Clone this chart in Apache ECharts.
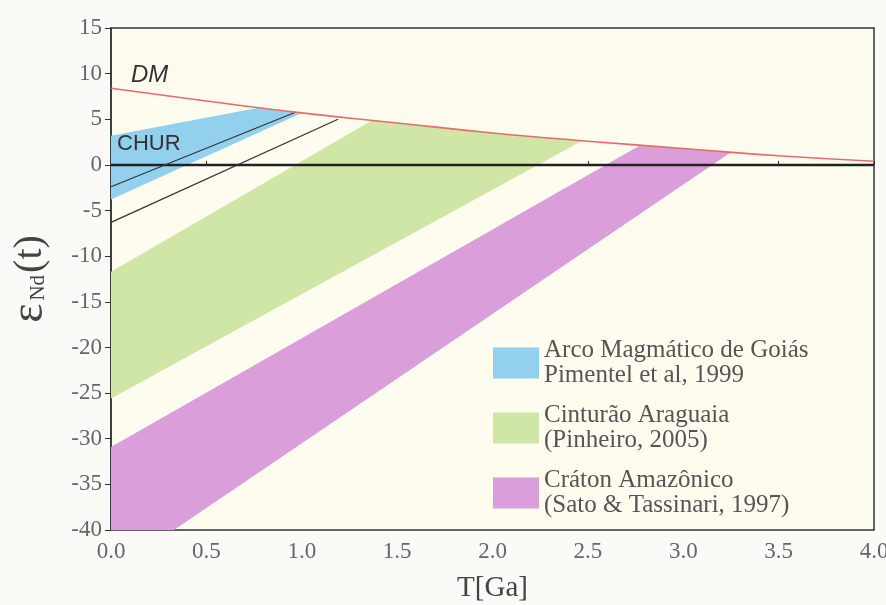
<!DOCTYPE html>
<html><head><meta charset="utf-8">
<script src="https://cdn.jsdelivr.net/npm/echarts@6/dist/echarts.min.js"></script>
<style>html,body{margin:0;padding:0;background:#fafaf7;}#c{width:886px;height:605px;}</style>
</head><body><div id="c"></div>
<script>
// Depleted mantle evolution curve [T (Ga), eNd]
const dmCurve = [[0,8.4],[0.5,7.0],[1.0,5.7],[1.5,4.6],[2.0,3.5],[2.5,2.6],[3.0,1.8],[3.5,1.0],[4.0,0.4]];
// CHUR reference line
const churLine = [[0,0],[4,0]];
// Thin evolution lines
const evoLine1 = [[0,-2.4],[0.97,5.8]];
const evoLine2 = [[0,-6.3],[1.19,5.0]];
// Field polygons (vertices T, eNd)
const arcoField = [[0,3.2],[0.78,6.3],[1.0,5.7],[0,-3.8]];
const araguaiaField = [[0,-11.7],[1.37,4.9],[1.5,4.6],[2.0,3.5],[2.47,2.65],[0,-25.6]];
const cratonField = [[0,-30.9],[2.77,2.1],[3.0,1.8],[3.25,1.4],[0.33,-40],[0,-40]];
// Axis ticks
const xTicks = {min:0, max:4, step:0.5};
const yTicks = {min:-40, max:15, step:5};
const legendNames = ['Arco Magmático de Goiás\nPimentel et al, 1999','Cinturão Araguaia\n(Pinheiro, 2005)','Cráton Amazônico\n(Sato & Tassinari, 1997)'];

function polySeries(name, pts, color){
  return {
    type:'custom', name:name, coordinateSystem:'cartesian2d', data:[[pts[0][0],pts[0][1]]],
    itemStyle:{color:color}, z:1, silent:true,
    renderItem:function(params, api){
      return {type:'polygon', shape:{points:pts.map(p=>api.coord(p))}, style:{fill:color}};
    }
  };
}
const serif = '"Liberation Serif","DejaVu Serif",serif';
const sans = '"Liberation Sans",Arial,sans-serif';
const chart = echarts.init(document.getElementById('c'));
chart.setOption({
  animation:false,
  backgroundColor:'#fafaf7',
  grid:{left:111, right:12, top:28, bottom:75, containLabel:false, outerBoundsMode:'none', show:true, backgroundColor:'#fdfcef', borderColor:'#333', borderWidth:1.5},
  xAxis:{type:'value', min:xTicks.min, max:xTicks.max, interval:xTicks.step,
    name:'T[Ga]', nameLocation:'middle', nameGap:44, nameTextStyle:{fontFamily:serif, fontSize:29, color:'#444'},
    axisLine:{lineStyle:{color:'#333', width:1.5}}, axisTick:{inside:true, length:4, lineStyle:{color:'#333'}},
    axisLabel:{fontFamily:serif, fontSize:23, color:'#666', margin:10, formatter:v=>v.toFixed(1)},
    splitLine:{show:false}},
  yAxis:{type:'value', min:yTicks.min, max:yTicks.max, interval:yTicks.step,
    name:'{e|ε}{s|Nd}{p|(t)}', nameLocation:'middle', nameGap:58, nameRotate:90,
    nameTextStyle:{rich:{e:{fontFamily:serif, fontSize:46, color:'#444', padding:[0,3,0,0]}, s:{fontFamily:serif, fontSize:21, color:'#444', padding:[16,2,0,0]}, p:{fontFamily:serif, fontSize:40, color:'#444'}}},
    axisLine:{show:true, lineStyle:{color:'#333', width:1.5}}, axisTick:{show:true, length:6, lineStyle:{color:'#333'}},
    axisLabel:{fontFamily:serif, fontSize:23, color:'#666', margin:9},
    splitLine:{show:false}},
  legend:{orient:'vertical', left:488, top:333, itemWidth:46, itemHeight:31, itemGap:15, icon:'rect',
    data:legendNames, textStyle:{fontFamily:serif, fontSize:25, lineHeight:25, color:'#555'}, selectedMode:false},
  graphic:[
    {type:'text', left:131, top:63, z:100, style:{text:'DM', fontFamily:sans, fontStyle:'italic', fontSize:24, fill:'#333'}},
    {type:'text', left:117, top:133, z:100, style:{text:'CHUR', fontFamily:sans, fontSize:22, fill:'#333'}}
  ],
  series:[
    polySeries(legendNames[0], arcoField, '#93d0ee'),
    polySeries(legendNames[1], araguaiaField, '#d0e6a6'),
    polySeries(legendNames[2], cratonField, '#da9edb'),
    {type:'line', data:churLine, symbol:'none', lineStyle:{color:'#222', width:2.5}, z:3, silent:true},
    {type:'line', data:evoLine1, symbol:'none', lineStyle:{color:'#333', width:1.2}, z:3, silent:true},
    {type:'line', data:evoLine2, symbol:'none', lineStyle:{color:'#333', width:1.2}, z:3, silent:true},
    {type:'line', data:dmCurve, symbol:'none', smooth:true, lineStyle:{color:'#e86a6a', width:1.6}, z:4, silent:true}
  ]
});
</script></body></html>
